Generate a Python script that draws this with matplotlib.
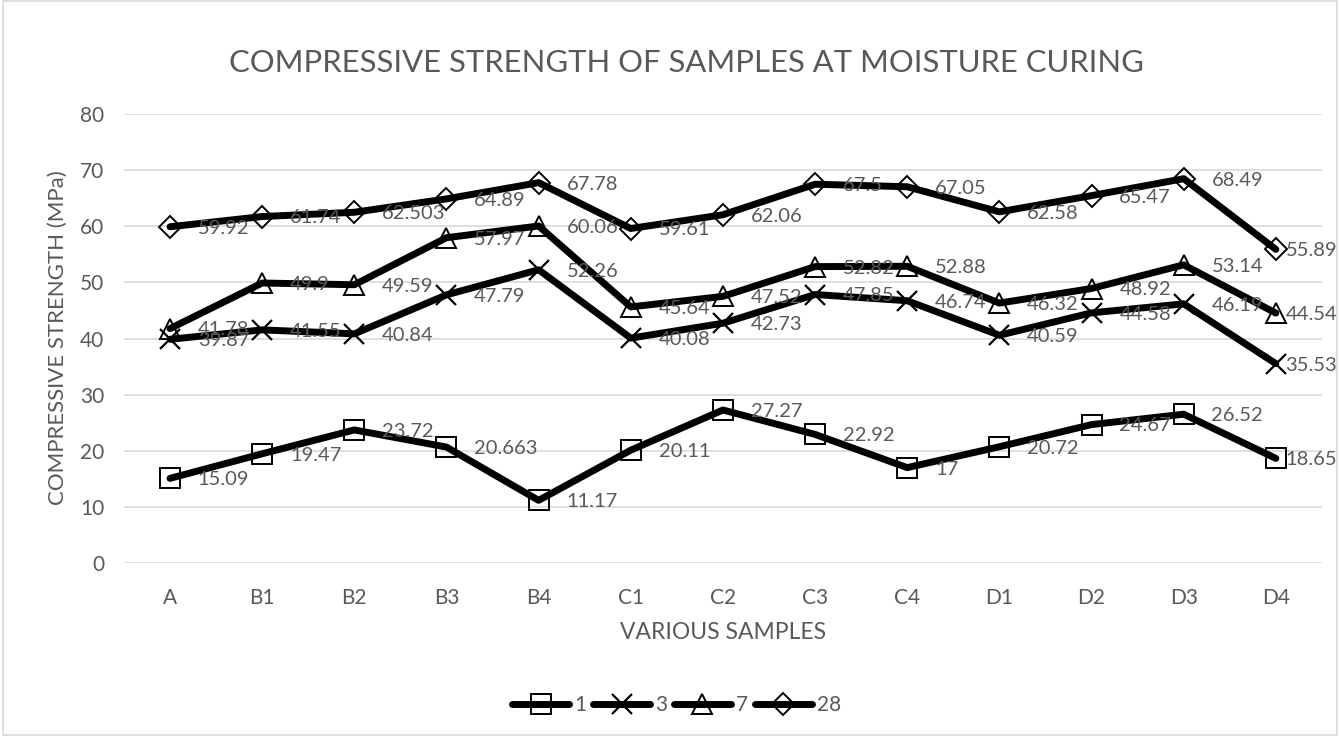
import matplotlib.pyplot as plt
from matplotlib.patches import Rectangle

samples = ['A', 'B1', 'B2', 'B3', 'B4', 'C1', 'C2', 'C3', 'C4', 'D1', 'D2', 'D3', 'D4']
day1 = [15.09, 19.47, 23.72, 20.663, 11.17, 20.11, 27.27, 22.92, 17, 20.72, 24.67, 26.52, 18.65]
day3 = [39.87, 41.55, 40.84, 47.79, 52.26, 40.08, 42.73, 47.85, 46.74, 40.59, 44.58, 46.19, 35.53]
day7 = [41.78, 49.9, 49.59, 57.97, 60.06, 45.64, 47.52, 52.82, 52.88, 46.32, 48.92, 53.14, 44.54]
day28 = [59.92, 61.74, 62.503, 64.89, 67.78, 59.61, 62.06, 67.5, 67.05, 62.58, 65.47, 68.49, 55.89]
series_names = ['1', '3', '7', '28']

plt.rcParams['font.family'] = ['Lato', 'DejaVu Sans']
grey = '#595959'

fig = plt.figure(figsize=(13.4, 7.36), dpi=100)
ax = fig.add_axes([0.0925, 0.235, 0.894, 0.61])

x = list(range(len(samples)))
styles = [('s', 14, 1.4), ('x', 15, 1.6), ('^', 14, 1.4), ('D', 11, 1.4)]
for vals, name, (mk, ms, mew) in zip([day1, day3, day7, day28], series_names, styles):
    ax.plot(x, vals, color='black', lw=5, marker=mk, markersize=ms,
            markerfacecolor='none', markeredgecolor='black', markeredgewidth=mew,
            label=name, solid_capstyle='round', zorder=3)
    for xi, v in zip(x, vals):
        # last labels are pulled in so they stay inside the chart, as in the original
        dx = 7 if xi == x[-1] else 20
        ax.annotate(f'{v:g}', (xi, v), xytext=(dx, -1), textcoords='offset points',
                    ha='left', va='center', fontsize=14.5, color=grey, zorder=4,
                    annotation_clip=False, clip_on=False)

ax.set_xlim(-0.5, 12.5)
ax.set_ylim(0, 80)
ax.set_yticks(range(0, 81, 10))
ax.set_xticks(x)
ax.set_xticklabels(samples)
ax.grid(axis='y', color='#d9d9d9', lw=1.2)
ax.set_axisbelow(True)
for s in ax.spines.values():
    s.set_visible(False)
ax.tick_params(axis='x', length=0, labelsize=15, colors=grey, pad=18)
ax.tick_params(axis='y', length=0, labelsize=15, colors=grey, pad=14)

# axis titles placed in figure coordinates
fig.text(0.5396, 0.14, 'VARIOUS SAMPLES', ha='center', va='center',
         fontsize=16.5, color=grey)
fig.text(0.0433, 0.541, 'COMPRESSIVE STRENGTH (MPa)', ha='center', va='center',
         rotation=90, fontsize=16, color=grey)
fig.text(0.512, 0.915, 'COMPRESSIVE STRENGTH OF SAMPLES AT MOISTURE CURING',
         ha='center', va='center', fontsize=22.3, color=grey)

fig.legend(loc='center', bbox_to_anchor=(0.505, 0.042), ncol=4, frameon=False,
           fontsize=15, labelcolor=grey, handlelength=2.75, handletextpad=0.25,
           columnspacing=0.3)

fig.patches.append(Rectangle((0.002, 0.002), 0.996, 0.996, transform=fig.transFigure,
                             fill=False, edgecolor='#d9d9d9', lw=1.2))

fig.savefig('out.png', dpi=100)
